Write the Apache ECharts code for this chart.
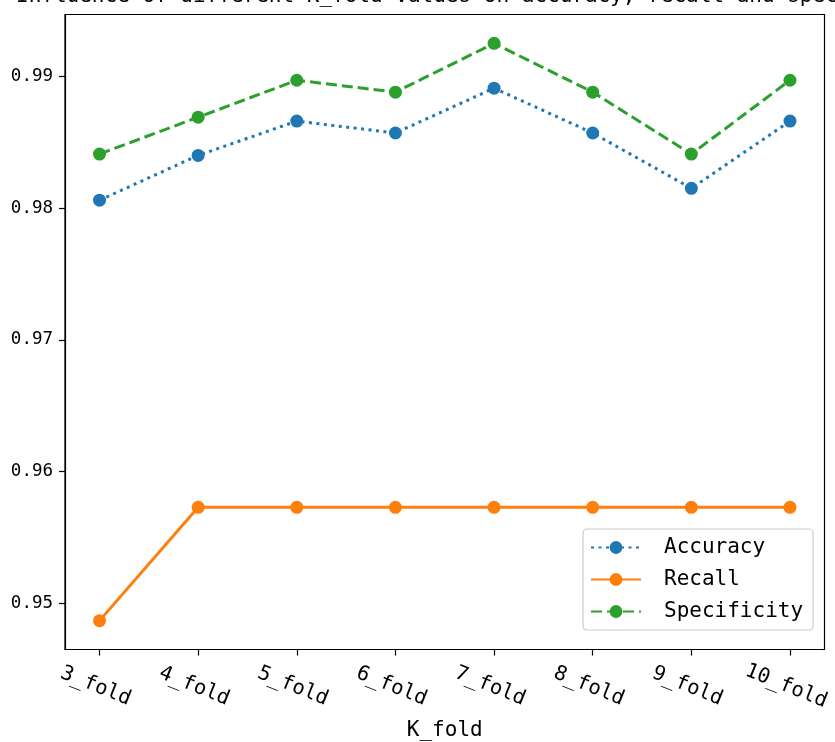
<!DOCTYPE html>
<html>
<head>
<meta charset="utf-8">
<script src="https://cdn.jsdelivr.net/npm/echarts@6/dist/echarts.min.js"></script>
<style>html,body{margin:0;padding:0;background:#fff;}#c{width:835px;height:742px;}</style>
</head>
<body>
<div id="c"></div>
<script>
const titleText = "Influence of different K_fold values on accuracy, recall and specificity";
const categories = ["3_fold","4_fold","5_fold","6_fold","7_fold","8_fold","9_fold","10_fold"];
const accuracy =    [0.9806, 0.9840, 0.9866, 0.9857, 0.9891, 0.9857, 0.9815, 0.9866];
const recall =      [0.9487, 0.9573, 0.9573, 0.9573, 0.9573, 0.9573, 0.9573, 0.9573];
const specificity = [0.9841, 0.9869, 0.9897, 0.9888, 0.9925, 0.9888, 0.9841, 0.9897];
const yTicks = [0.95, 0.96, 0.97, 0.98, 0.99];
const xAxisName = "K_fold";

const FONT = "DejaVu Sans Mono";
const idx = categories.map((c, i) => i);
const toPairs = arr => arr.map((v, i) => [i, v]);

const all = accuracy.concat(recall, specificity);
const dmin = Math.min(...all), dmax = Math.max(...all);
const pad = (dmax - dmin) * 0.05;
const n = categories.length;

const chart = echarts.init(document.getElementById('c'), null, {renderer: 'canvas'});
chart.setOption({
  animation: false,
  backgroundColor: '#fff',
  title: {
    text: titleText,
    left: 16,
    top: -14,
    padding: 0,
    textStyle: {fontFamily: FONT, fontSize: 21, fontWeight: 'normal', color: '#000'}
  },
  grid: {left: 65, right: 10.5, top: 14.5, bottom: 92.5, show: true, borderColor: '#000', borderWidth: 1.2,
         outerBoundsMode: 'none', containLabel: false},
  xAxis: {
    type: 'value',
    min: -(n - 1) * 0.05,
    max: (n - 1) * 1.05,
    splitLine: {show: false},
    axisLine: {show: true, onZero: false, lineStyle: {color: '#000', width: 1.2}},
    axisTick: {show: true, length: 6, lineStyle: {color: '#000', width: 1.2}, customValues: idx},
    axisLabel: {
      customValues: idx,
      formatter: v => categories[Math.round(v)] || '',
      rotate: -22,
      align: 'center',
      verticalAlign: 'top',
      margin: 27,
      fontFamily: FONT, fontSize: 20.5, color: '#000'
    },
    name: xAxisName,
    nameLocation: 'middle',
    nameGap: 71,
    nameTextStyle: {fontFamily: FONT, fontSize: 21, color: '#000'}
  },
  yAxis: {
    type: 'value',
    min: dmin - pad,
    max: dmax + pad,
    splitLine: {show: false},
    axisLine: {show: true, onZero: false, lineStyle: {color: '#000', width: 1.2}},
    axisTick: {show: true, length: 6, lineStyle: {color: '#000', width: 1.2}, customValues: yTicks},
    axisLabel: {
      customValues: yTicks,
      formatter: v => v.toFixed(2),
      margin: 12,
      fontFamily: FONT, fontSize: 17.5, color: '#000'
    }
  },
  legend: {
    orient: 'vertical',
    left: 583,
    top: 529,
    padding: [8, 10, 8, 7],
    itemGap: 11,
    itemWidth: 50,
    itemHeight: 16,
    backgroundColor: 'rgba(255,255,255,0.8)',
    borderColor: '#cccccc',
    borderWidth: 1.2,
    borderRadius: 4,
    textStyle: {fontFamily: FONT, fontSize: 21, color: '#000', padding: [0, 0, 0, 18]},
    data: ['Accuracy', 'Recall', 'Specificity']
  },
  series: [
    {
      name: 'Accuracy', type: 'line', data: toPairs(accuracy),
      symbol: 'circle', symbolSize: 13,
      itemStyle: {color: '#1f77b4'},
      lineStyle: {color: '#1f77b4', width: 3, type: [3, 4.5], cap: 'butt'}
    },
    {
      name: 'Recall', type: 'line', data: toPairs(recall),
      symbol: 'circle', symbolSize: 13,
      itemStyle: {color: '#ff7f0e'},
      lineStyle: {color: '#ff7f0e', width: 3, type: 'solid'}
    },
    {
      name: 'Specificity', type: 'line', data: toPairs(specificity),
      symbol: 'circle', symbolSize: 13,
      itemStyle: {color: '#2ca02c'},
      lineStyle: {color: '#2ca02c', width: 3, type: [11, 5], cap: 'butt'}
    }
  ]
});
</script>
</body>
</html>
